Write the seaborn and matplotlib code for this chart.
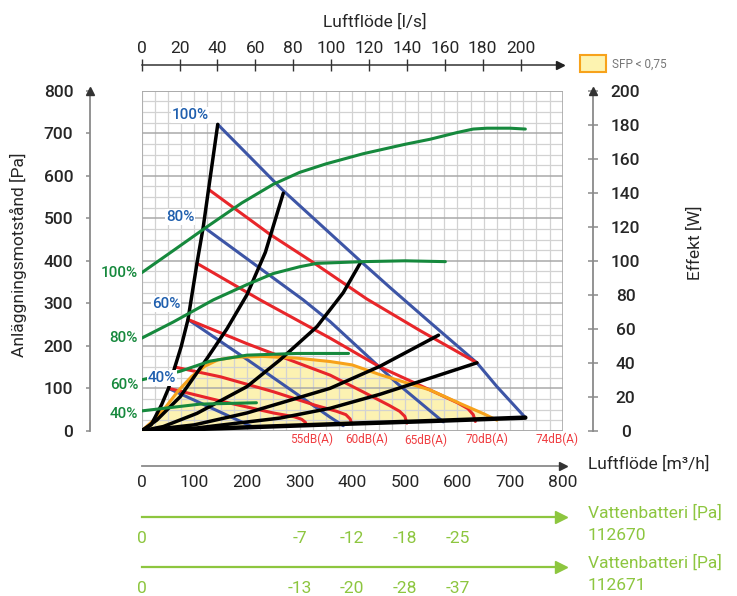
import numpy as np
import pandas as pd
import matplotlib.pyplot as plt
import matplotlib.transforms as mtrans
import seaborn as sns
from matplotlib.patches import Rectangle
from matplotlib.ticker import MultipleLocator

# ---- fan curves (blue), Pa vs m3/h
blue_100_q = [144.5, 269, 415, 472, 548, 637, 675, 729]
blue_100_p = [721, 565, 400, 337, 255, 160, 104, 31]
blue_80_q = [117, 307, 358, 485, 573]
blue_80_p = [480, 308, 257, 112, 21]
blue_60_q = [88, 200, 300, 358, 383]
blue_60_p = [262, 168, 82, 32, 12]
blue_40_q = [54, 130, 209]
blue_40_p = [98, 55, 10]

# ---- sound level curves (red)
red_74_q = [127, 244, 326, 428, 530, 637]
red_74_p = [568, 462, 396, 310, 235, 160]
red_70_q = [105, 225, 358, 453, 548, 600, 620, 630, 634]
red_70_p = [394, 308, 218, 150, 96, 66, 52, 38, 22]
red_65_q = [88, 200, 300, 358, 420, 470, 490, 500, 504]
red_65_p = [262, 205, 158, 131, 92, 60, 46, 34, 18]
red_60_q = [63, 150, 250, 330, 370, 388, 396, 399]
red_60_p = [150, 127, 92, 60, 46, 38, 28, 17]
red_55_q = [51, 150, 250, 290, 304, 311, 313]
red_55_p = [100, 70, 42, 33, 27, 20, 13]

# ---- system curves (black)
black_1_q = [0, 18, 38, 51, 63, 75, 88, 105, 117, 127, 144.5]
black_1_p = [0, 14, 62, 100, 150, 198, 262, 394, 480, 568, 721]
black_2_q = [0, 28.5, 73, 124, 162, 200, 235, 269]
black_2_p = [0, 25, 80, 170, 240, 320, 420, 559]
black_3_q = [0, 41, 105, 200, 263, 333, 383, 415]
black_3_p = [0, 10, 41, 104, 167, 245, 325, 394]
black_4_q = [0, 100, 200, 263, 358, 453, 564]
black_4_p = [0, 14, 42, 65, 100, 152, 225]
black_5_q = [0, 100, 263, 358, 453, 548, 637]
black_5_p = [0, 6, 30, 53, 86, 124, 160]
black_6_q = [0, 150, 263, 400, 550, 729]
black_6_p = [0, 6, 11, 17, 23, 31]

# ---- SFP < 0,75 limit (orange)
sfp_q = [0, 20, 45, 70, 95, 120, 145, 175, 230, 295, 358, 400, 453, 548, 611, 650, 675]
sfp_p = [0, 22, 55, 95, 128, 152, 167, 173, 175, 171, 163, 155, 132, 96, 61, 40, 25]

# ---- power curves (green), W vs m3/h
green_100_q = [0, 60, 124, 190, 250, 300, 350, 421, 500, 548, 600, 630, 656, 700, 729]
green_100_w = [93, 106, 120, 134, 145, 152, 157, 163, 168.5, 171.5, 175.5, 177.5, 178, 178, 177.5]
green_80_q = [0, 60, 136, 200, 250, 300, 333, 421, 500, 577]
green_80_w = [54.5, 64, 77, 86, 92.5, 96.5, 98.5, 99.5, 100, 99.5]
green_60_q = [0, 73, 130, 200, 295, 393]
green_60_w = [30, 35, 41, 44.5, 45.5, 45.5]
green_40_q = [0, 111, 218]
green_40_w = [11.7, 15.7, 16.5]

x_ticks = [0, 100, 200, 300, 400, 500, 600, 700, 800]
ls_ticks = [0, 20, 40, 60, 80, 100, 120, 140, 160, 180, 200]
pa_ticks = [0, 100, 200, 300, 400, 500, 600, 700, 800]
w_ticks = [0, 20, 40, 60, 80, 100, 120, 140, 160, 180, 200]
vb_ticks = [0, 300, 400, 500, 600]
vb_112670 = ["0", "-7", "-12", "-18", "-25"]
vb_112671 = ["0", "-13", "-20", "-28", "-37"]
db_labels = ["55dB(A)", "60dB(A)", "65dB(A)", "70dB(A)", "74dB(A)"]
db_label_q = [322, 428, 539, 656, 790]
pct_labels = ["100%", "80%", "60%", "40%"]
blue_label_pos = [(92, 743), (73, 503), (46, 298), (39, 124)]
green_label_w = [92.8, 54.6, 27, 10]


def frame(groups):
    rows = []
    for name, (q, v) in groups.items():
        rows.append(pd.DataFrame({"q": q, "v": v, "curve": name}))
    return pd.concat(rows, ignore_index=True)


blue_df = frame({"100": (blue_100_q, blue_100_p), "80": (blue_80_q, blue_80_p),
                 "60": (blue_60_q, blue_60_p), "40": (blue_40_q, blue_40_p)})
red_df = frame({"74": (red_74_q, red_74_p), "70": (red_70_q, red_70_p),
                "65": (red_65_q, red_65_p), "60": (red_60_q, red_60_p),
                "55": (red_55_q, red_55_p)})
black_df = frame({"1": (black_1_q, black_1_p), "2": (black_2_q, black_2_p),
                  "3": (black_3_q, black_3_p), "4": (black_4_q, black_4_p),
                  "5": (black_5_q, black_5_p)})
bottom_df = frame({"6": (black_6_q, black_6_p)})
sfp_df = frame({"sfp": (sfp_q, sfp_p)})
green_df = frame({"100": (green_100_q, green_100_w), "80": (green_80_q, green_80_w),
                  "60": (green_60_q, green_60_w), "40": (green_40_q, green_40_w)})

sns.set_style("white")
plt.rcParams["font.family"] = ["Roboto", "DejaVu Sans"]

BLUE = "#3d55a6"
BLUE_TXT = "#1f5fae"
RED = "#e8262a"
GREEN = "#16893d"
ORANGE = "#f7a21b"
FILL = "#fcf2b2"
LIME = "#8dc63f"
AXC = "#8a8a8a"
TXT = "#262626"

W_PX, H_PX = 737, 596
fig = plt.figure(figsize=(7.37, 5.96), dpi=100)


def px_box(x0, y0, x1, y1):
    return [x0 / W_PX, 1 - y1 / H_PX, (x1 - x0) / W_PX, (y1 - y0) / H_PX]


X0, X1, Y0, Y1 = 141.7, 562.7, 90.8, 430.8
ax = fig.add_axes(px_box(X0, Y0, X1, Y1))
ax.set_xlim(0, 800)
ax.set_ylim(0, 800)

# grid
ax.set_axisbelow(True)
ax.xaxis.set_minor_locator(MultipleLocator(25))
ax.yaxis.set_minor_locator(MultipleLocator(25))
ax.grid(which="minor", color="#d2d2d2", lw=0.9)
ax.xaxis.grid(which="major", color="#d2d2d2", lw=0.9)
ax.yaxis.grid(which="major", color="#a9a9a9", lw=1.1)
ax.add_patch(Rectangle((0, 0), 1, 1, transform=ax.transAxes, fill=False,
                       ec="#a9a9a9", lw=1.2, zorder=0.6))

# SFP area
ax.fill_between(sfp_q, sfp_p, np.interp(sfp_q, black_6_q, black_6_p),
                color=FILL, lw=0, zorder=0.2)

sns.lineplot(data=blue_df, x="q", y="v", units="curve", estimator=None, sort=False,
             color=BLUE, lw=2.2, ax=ax, legend=False)
sns.lineplot(data=red_df, x="q", y="v", units="curve", estimator=None, sort=False,
             color=RED, lw=2.2, ax=ax, legend=False)
sns.lineplot(data=sfp_df, x="q", y="v", units="curve", estimator=None, sort=False,
             color=ORANGE, lw=2.2, ax=ax, legend=False)
sns.lineplot(data=black_df, x="q", y="v", units="curve", estimator=None, sort=False,
             color="black", lw=2.5, ax=ax, legend=False)
sns.lineplot(data=bottom_df, x="q", y="v", units="curve", estimator=None, sort=False,
             color="black", lw=3.2, ax=ax, legend=False)

# bottom / left axes
ax.spines[["top", "right"]].set_visible(False)
ax.spines["left"].set_position(("outward", (X0 - 90) * 0.72))
ax.spines["bottom"].set_position(("outward", (465.5 - Y1) * 0.72))
for s in ["left", "bottom"]:
    ax.spines[s].set_color(AXC)
    ax.spines[s].set_linewidth(1.3)
ax.set_xticks(x_ticks)
ax.set_yticks(pa_ticks)
ax.tick_params(which="minor", length=0)
ax.tick_params(axis="x", which="major", direction="inout", length=7, width=1.1,
               color=AXC, pad=3, labelsize=12.5, labelcolor=TXT)
ax.tick_params(axis="y", which="major", direction="out", length=3, width=1.1,
               color=AXC, pad=9, labelsize=12.5, labelcolor=TXT)
for lab in ax.get_yticklabels():
    lab.set_fontweight("medium")
ax.set_xlabel("")
ax.set_ylabel("")
ax.plot(0, 800, marker="^", ms=6, color="#333333", clip_on=False,
        transform=ax.spines["left"].get_spine_transform(), zorder=5)
ax.plot(800, 0, marker=">", ms=6, color="#333333", clip_on=False,
        transform=ax.spines["bottom"].get_spine_transform(), zorder=5)

# dB labels
for q, s in zip(db_label_q, db_labels):
    dy = -23 if s.startswith("65") else -19
    ax.text(q, dy, s, color="#ef3e42", fontsize=8.5, ha="center", va="center",
            clip_on=False)

# top axis in l/s
top_loc = 1 + (Y0 - 65.5) / (Y1 - Y0)
sec = ax.secondary_xaxis(top_loc, functions=(lambda q: q / 3.6, lambda l: l * 3.6))
sec.set_xticks(ls_ticks)
sec.spines["top"].set_color("#333333")
sec.spines["top"].set_linewidth(1.1)
sec.tick_params(direction="inout", length=8, width=1, color="#333333", pad=3,
                labelsize=12.5, labelcolor=TXT)
ax.plot(794, top_loc, marker=">", ms=5.5, color="#222222", clip_on=False,
        transform=mtrans.blended_transform_factory(ax.transData, ax.transAxes))

# right axis: power
ax_w = ax.twinx()
ax_w.set_ylim(0, 200)
sns.lineplot(data=green_df, x="q", y="v", units="curve", estimator=None, sort=False,
             color=GREEN, lw=2.2, ax=ax_w, legend=False)
ax_w.set_ylabel("")
ax_w.spines[["left", "top", "bottom"]].set_visible(False)
ax_w.spines["right"].set_position(("outward", (593 - X1) * 0.72))
ax_w.spines["right"].set_color(AXC)
ax_w.spines["right"].set_linewidth(1.3)
ax_w.set_yticks(w_ticks)
ax_w.tick_params(axis="y", direction="inout", length=7, width=1.1, color=AXC,
                 pad=20, labelsize=12.5, labelcolor=TXT)
for lab in ax_w.get_yticklabels():
    lab.set_ha("center")
    lab.set_fontweight("medium")
ax_w.plot(1, 200, marker="^", ms=6, color="#333333", clip_on=False,
          transform=ax_w.spines["right"].get_spine_transform(), zorder=5)

# percentage labels
for (q, p), s in zip(blue_label_pos, pct_labels):
    ax_w.text(q, p, s, transform=ax.transData, color=BLUE_TXT, fontsize=11,
              fontweight="medium", ha="center", va="center", zorder=6,
              bbox=dict(fc="white", ec="none", pad=0.6))
for w, s in zip(green_label_w, pct_labels):
    ax_w.text(-7, w, s, color=GREEN, fontsize=11, fontweight="medium",
              ha="right", va="center", clip_on=False)

# water coil pressure drop axes
for y_line, labels, code in [(516.5, vb_112670, "112670"), (566.5, vb_112671, "112671")]:
    vb = fig.add_axes(px_box(X0, y_line - 0.5, X1, y_line))
    vb.set_xlim(0, 800)
    vb.set_ylim(0, 1)
    vb.patch.set_visible(False)
    vb.set_yticks([])
    vb.spines[["left", "right", "top"]].set_visible(False)
    vb.spines["bottom"].set_color(LIME)
    vb.spines["bottom"].set_linewidth(1.6)
    vb.set_xticks(vb_ticks, labels)
    vb.tick_params(axis="x", direction="inout", length=9, width=1.3, color=LIME,
                   pad=6, labelsize=12.5, labelcolor=LIME)
    vb.plot(797, 0, marker=">", ms=9, color=LIME, clip_on=False,
            transform=mtrans.blended_transform_factory(vb.transData, vb.transAxes))
    fig.text(588 / W_PX, 1 - (y_line - 4) / H_PX, "Vattenbatteri [Pa]",
             color=LIME, fontsize=12.5, ha="left", va="center")
    fig.text(588 / W_PX, 1 - (y_line + 19) / H_PX, code,
             color=LIME, fontsize=12.5, ha="left", va="center")

# axis titles
fig.text(375 / W_PX, 1 - 22 / H_PX, "Luftflöde [l/s]", fontsize=12.5,
         color=TXT, ha="center", va="center")
fig.text(18 / W_PX, 1 - 255 / H_PX, "Anläggningsmotstånd [Pa]", fontsize=12.5,
         color=TXT, ha="center", va="center", rotation=90)
fig.text(695 / W_PX, 1 - 243 / H_PX, "Effekt [W]", fontsize=12.5,
         color=TXT, ha="center", va="center", rotation=90)
fig.text(588 / W_PX, 1 - 464 / H_PX, "Luftflöde [m³/h]", fontsize=12.5,
         color=TXT, ha="left", va="center")

# legend
fig.add_artist(Rectangle((580 / W_PX, 1 - 72 / H_PX), 26 / W_PX, 17 / H_PX,
                         transform=fig.transFigure, fc="#fdf3b0", ec=ORANGE, lw=1.5))
fig.text(612 / W_PX, 1 - 64 / H_PX, "SFP < 0,75", fontsize=8.5, color="#777777",
         ha="left", va="center")

plt.savefig("out.png", dpi=100)
